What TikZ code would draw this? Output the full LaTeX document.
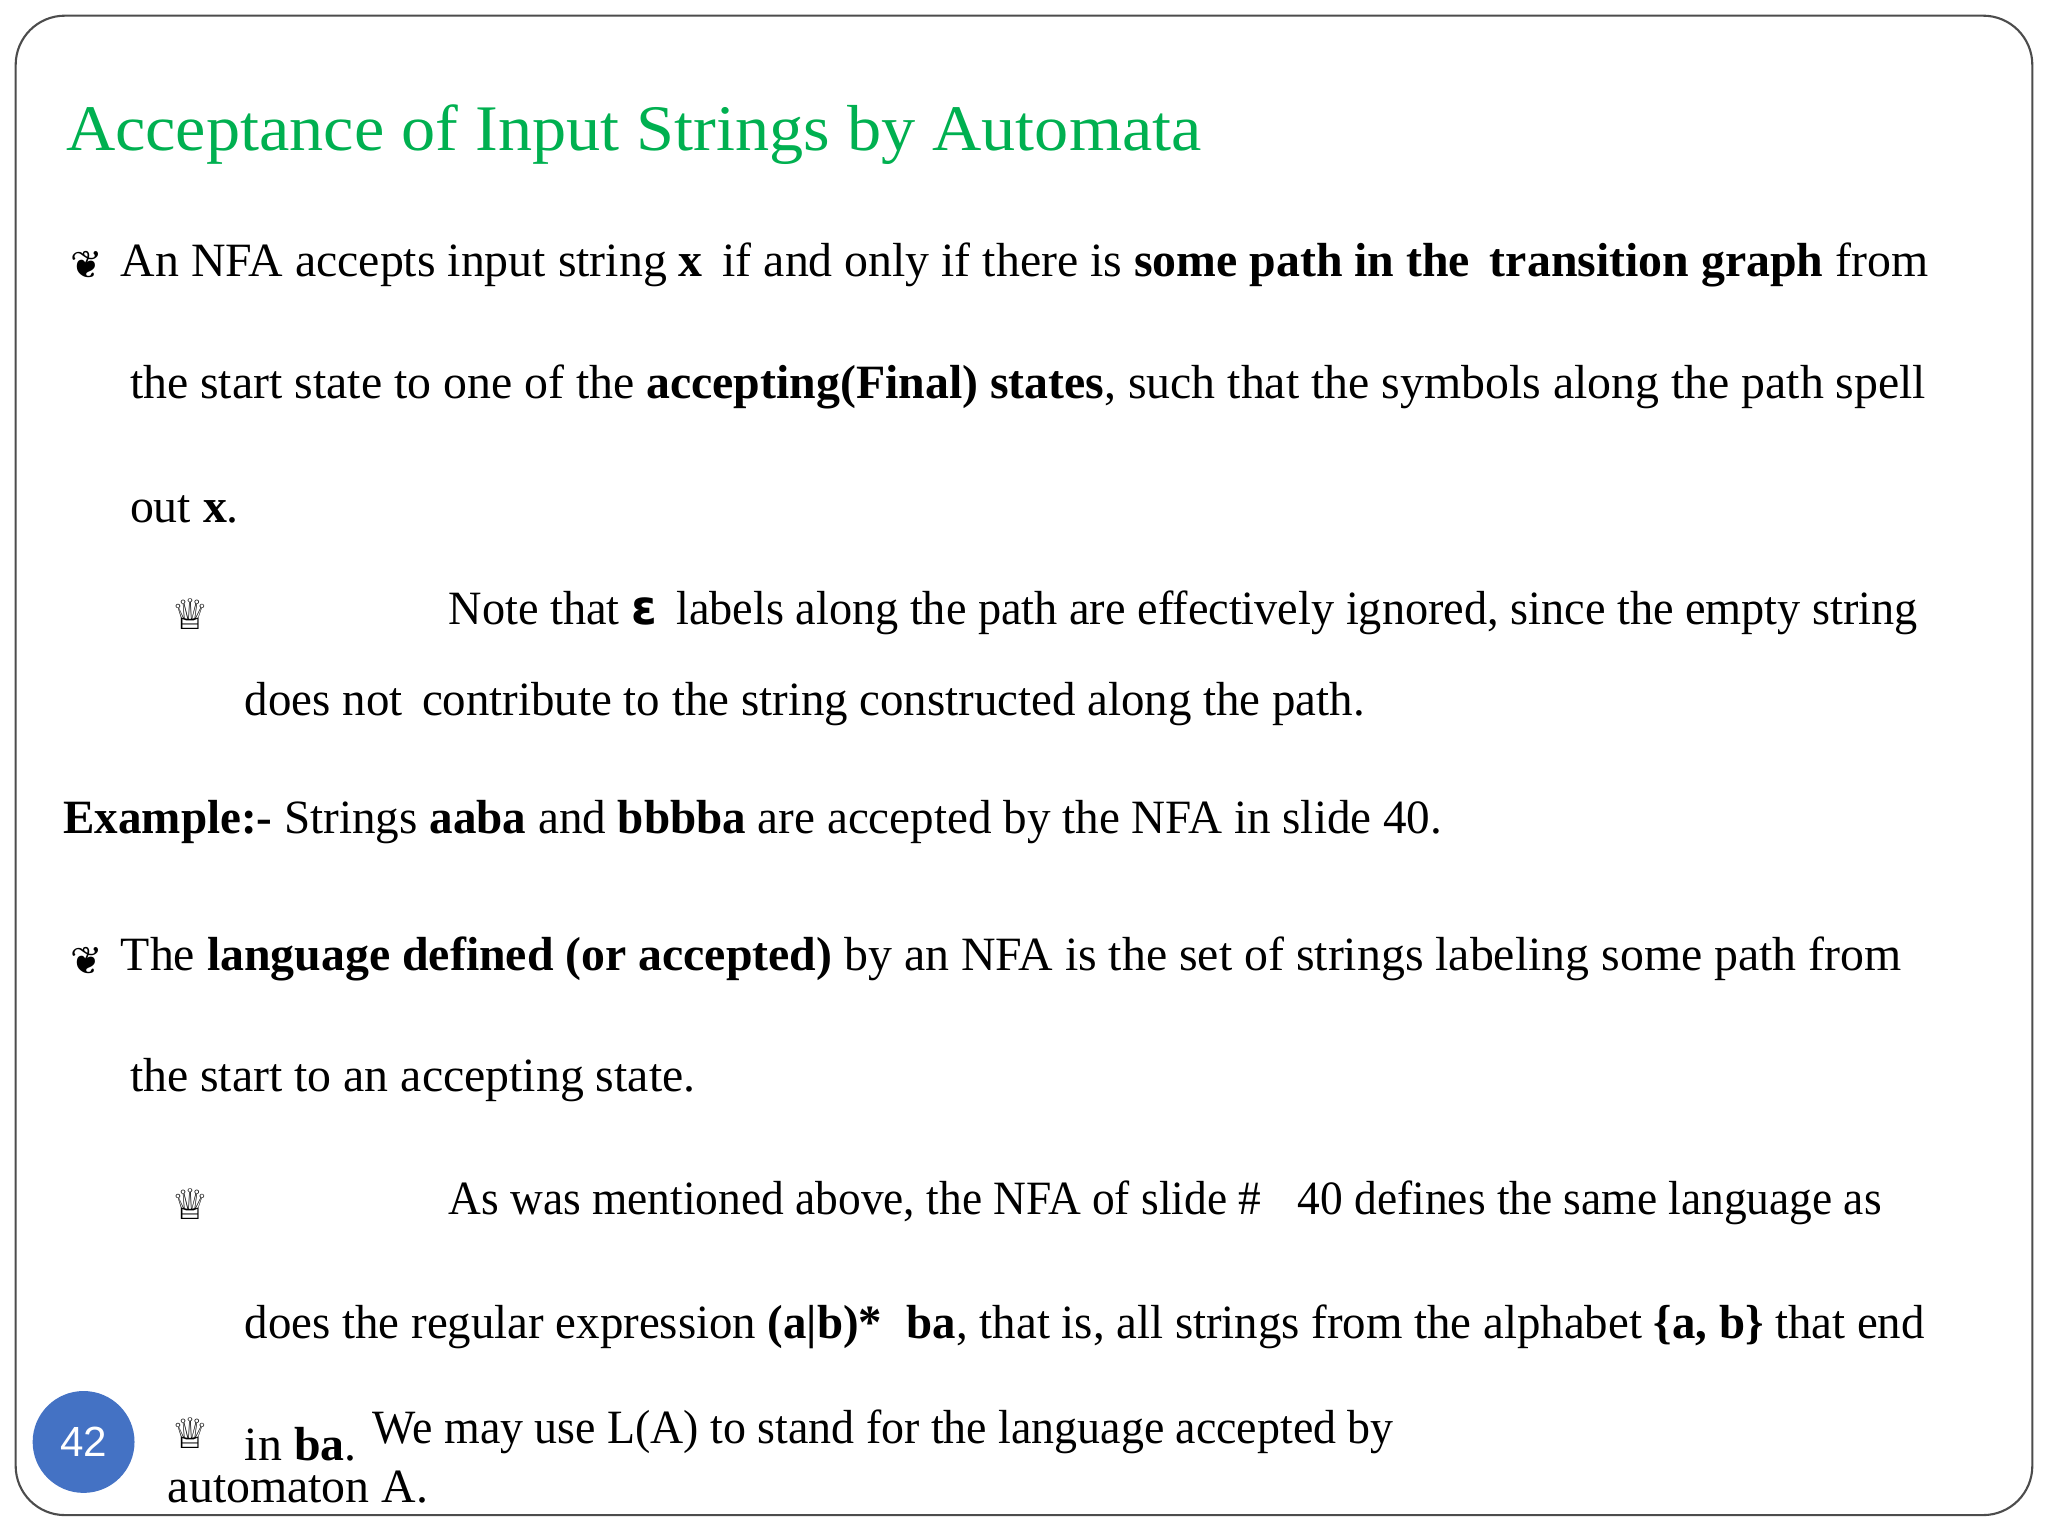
\documentclass[tikz,border=0pt]{standalone}
\usepackage{graphicx}
\usepackage{fontspec}
\setmainfont{Liberation Serif}
\newfontfamily\symf{DejaVu Sans}
\newfontfamily\sansf{Liberation Sans}
\definecolor{ttlgreen}{RGB}{0,176,80}
\definecolor{pgblue}{RGB}{68,114,196}
\newcommand{\sx}[2]{\scalebox{#1}[1]{#2}}
\begin{document}
\begin{tikzpicture}[x=0.013061cm,y=-0.013061cm,
  body/.style={anchor=base west,inner sep=0pt,font=\fontsize{13.6}{16}\selectfont},
  bulA/.style={anchor=center,inner sep=0pt,font=\symf\fontsize{11}{12}\selectfont},
  bulB/.style={anchor=center,inner sep=0pt,font=\symf\fontsize{12}{12}\selectfont}]
\useasboundingbox (0,0) rectangle (1568,1176);
\draw[rounded corners=14, draw=black!70, line width=0.6pt] (12,12) rectangle (1556,1160);
\node[body,font=\fontsize{18.5}{20}\selectfont,text=ttlgreen] (title) at (50,115) {\sx{1.05}{Acceptance of Input Strings by Automata}};
\node[bulA] (b1) at (66,203) {❦};
\node[body] (l1) at (92,212) {An NFA accepts input string \textbf{x}\, if and only if there is \textbf{some path in the\, transition graph} from};
\node[body] (l2) at (99,305) {the start state to one of the \textbf{accepting(Final) states}, such that the symbols along the path spell};
\node[body] (l3) at (99,400) {out \textbf{x}.};
\node[bulB] (b2) at (146,470) {♕};
\node[body] (l4) at (343,478) {\sx{0.968}{Note that \textbf{\symf ε}\, labels along the path are effectively ignored, since the empty string}};
\node[body] (l5) at (187,548) {\sx{0.981}{does not\, contribute to the string constructed along the path.}};
\node[body] (l6) at (48,638) {\sx{0.985}{\textbf{Example:-} Strings \textbf{aaba} and \textbf{bbbba} are accepted by the NFA in slide 40.}};
\node[bulA] (b3) at (66,736) {❦};
\node[body] (l7) at (92,743) {The \textbf{language defined (or accepted)} by an NFA is the set of strings labeling some path from};
\node[body] (l8) at (99,836) {the start to an accepting state.};
\node[bulB] (b4) at (146,922) {♕};
\node[body] (l9) at (343,930) {\sx{0.95}{As was mentioned above, the NFA of slide \#\;\; 40 defines the same language as}};
\node[body] (l10) at (187,1025) {\sx{0.98}{does the regular expression \textbf{(a|b)*\; ba}, that is, all strings from the alphabet \textbf{\{a, b\}} that end}};
\node[bulB] (b5) at (146,1097) {♕};
\node[body] (l11) at (187,1118) {in \textbf{ba}.};
\node[body] (l12) at (285,1105) {\sx{0.96}{We may use L(A) to stand for the language accepted by}};
\node[body] (l13) at (128,1150) {automaton A.};
\node[circle,fill=pgblue,minimum size=78*0.013061cm,inner sep=0pt,text=white,font=\sansf\fontsize{12}{14}\selectfont] (pg) at (64,1104) {42};
\end{tikzpicture}
\end{document}
